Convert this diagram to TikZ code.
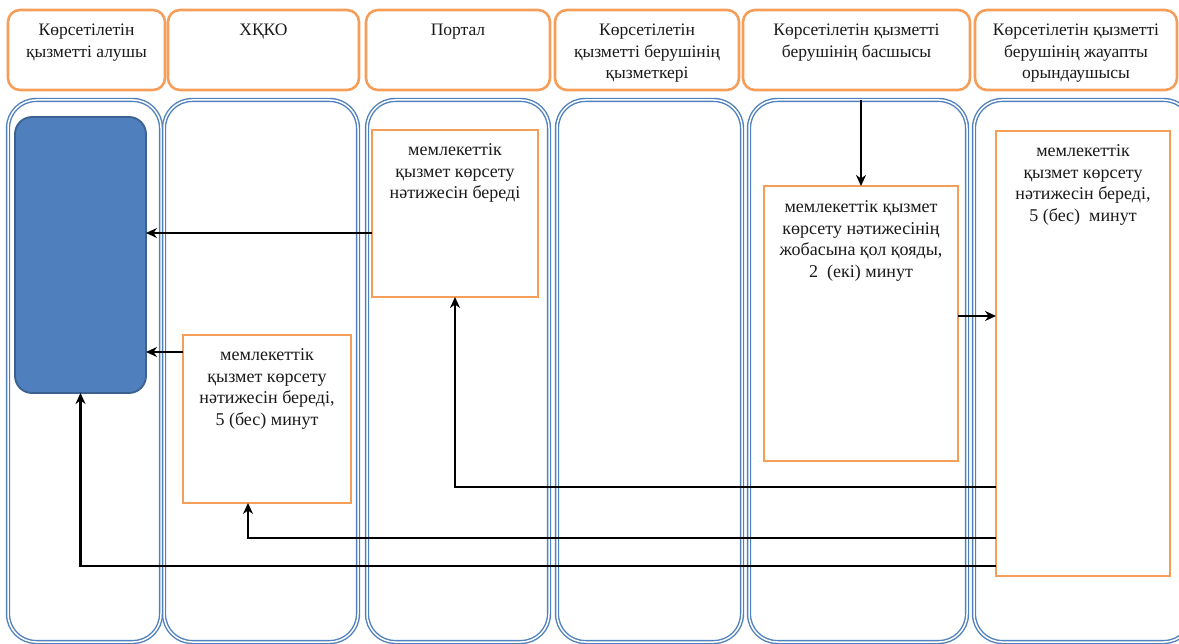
\documentclass[tikz,border=0pt]{standalone}
\usepackage{fontspec}
\setmainfont{Liberation Serif}
\usetikzlibrary{arrows.meta,calc,positioning}
\definecolor{laneblue}{HTML}{4F81BD}
\definecolor{boxorange}{HTML}{F59E5A}
\definecolor{fillblue}{HTML}{4F7FBC}
\definecolor{edgeblue}{HTML}{3A6190}
\definecolor{inktext}{HTML}{1A1A1A}

\begin{document}
\begin{tikzpicture}[x=1pt,y=-1pt,
  every node/.style={inner sep=0pt, outer sep=0pt},
  header/.style={draw=boxorange, line width=2.6pt, rounded corners=12pt, fill=white},
  lane/.style={draw=laneblue, double=white, double distance=1.5pt, line width=1.4pt, rounded corners=28pt},
  stepbox/.style={draw=boxorange, line width=2.8pt, fill=white},
  clientbox/.style={draw=edgeblue, line width=1.8pt, fill=fillblue, rounded corners=17pt},
  caption/.style={font=\fontsize{17.5}{21.5}\selectfont, text=inktext, align=center},
  body/.style={font=\fontsize{18}{21.5}\selectfont, text=inktext, align=center},
  arr/.style={draw=black, line width=2.5pt, -{Stealth[length=11pt,width=10pt]}},
]
\clip (0,0) rectangle (1179,644);
\fill[white] (0,0) rectangle (1179,644);

% swimlanes
\node[lane, minimum width=153pt, minimum height=542pt] (lane1) at (84.5,371) {};
\node[lane, minimum width=194pt, minimum height=542pt] (lane2) at (261,371) {};
\node[lane, minimum width=182pt, minimum height=542pt] (lane3) at (458,371) {};
\node[lane, minimum width=185pt, minimum height=542pt] (lane4) at (649.5,371) {};
\node[lane, minimum width=218pt, minimum height=542pt] (lane5) at (858,371) {};
\node[lane, minimum width=218pt, minimum height=542pt] (lane6) at (1083,371) {};

% lane headers
\node[header, minimum width=157pt, minimum height=80pt] (h1) at (86.5,50) {};
\node[header, minimum width=191pt, minimum height=80pt] (h2) at (263.5,50) {};
\node[header, minimum width=184pt, minimum height=80pt] (h3) at (458,50) {};
\node[header, minimum width=184pt, minimum height=80pt] (h4) at (647,50) {};
\node[header, minimum width=227pt, minimum height=80pt] (h5) at (856.5,50) {};
\node[header, minimum width=202pt, minimum height=80pt] (h6) at (1076,50) {};

\node[caption, below=14pt of h1.north] (t1) {Көрсетілетін\\қызметті алушы};
\node[caption, below=14pt of h2.north] (t2) {ХҚКО};
\node[caption, below=14pt of h3.north] (t3) {Портал};
\node[caption, below=14pt of h4.north] (t4) {Көрсетілетін\\қызметті берушінің\\қызметкері};
\node[caption, below=14pt of h5.north] (t5) {Көрсетілетін қызметті\\берушінің басшысы};
\node[caption, below=14pt of h6.north] (t6) {Көрсетілетін қызметті\\берушінің жауапты\\орындаушысы};

% process boxes
\node[clientbox, minimum width=131pt, minimum height=276pt] (client) at (80.5,255) {};
\node[stepbox, minimum width=166pt, minimum height=167pt] (portal) at (455,213.5) {};
\node[stepbox, minimum width=168pt, minimum height=168pt] (xkko) at (267,419) {};
\node[stepbox, minimum width=194pt, minimum height=275pt] (head) at (861,323.5) {};
\node[stepbox, minimum width=174pt, minimum height=445pt] (exec) at (1083,353.5) {};

\node[body, below=14pt of portal.north] (pt) {мемлекеттік\\қызмет көрсету\\нәтижесін береді};
\node[body, below=14pt of xkko.north] (xt) {мемлекеттік\\қызмет көрсету\\нәтижесін береді,\\5 (бес) минут};
\node[body, below=15pt of head.north] (ht) {мемлекеттік қызмет\\көрсету нәтижесінің\\жобасына қол қояды,\\2~~(екі) минут};
\node[body, below=14pt of exec.north] (et) {мемлекеттік\\қызмет көрсету\\нәтижесін береді,\\5 (бес)~~минут};

% connectors
\coordinate (p1) at ($(portal.west)+(0,19.5)$);
\draw[arr] (p1) -- (p1 -| client.east);
\coordinate (x1) at ($(xkko.west)+(0,-67)$);
\draw[arr] (x1) -- (x1 -| client.east);
\draw[arr] (head.north |- lane5.north) -- (head.north);
\coordinate (k1) at ($(head.east)+(0,-7.5)$);
\draw[arr] (k1) -- (k1 -| exec.west);
\coordinate (e1) at ($(exec.west)+(0,133.5)$);
\coordinate (e2) at ($(exec.west)+(0,184.5)$);
\coordinate (e3) at ($(exec.west)+(0,212.5)$);
\coordinate (xin) at ($(xkko.south)+(-19,0)$);
\draw[arr] (e1) -| (portal.south);
\draw[arr] (e2) -| (xin);
\draw[arr] (e3) -| (client.south);
\end{tikzpicture}
\end{document}
